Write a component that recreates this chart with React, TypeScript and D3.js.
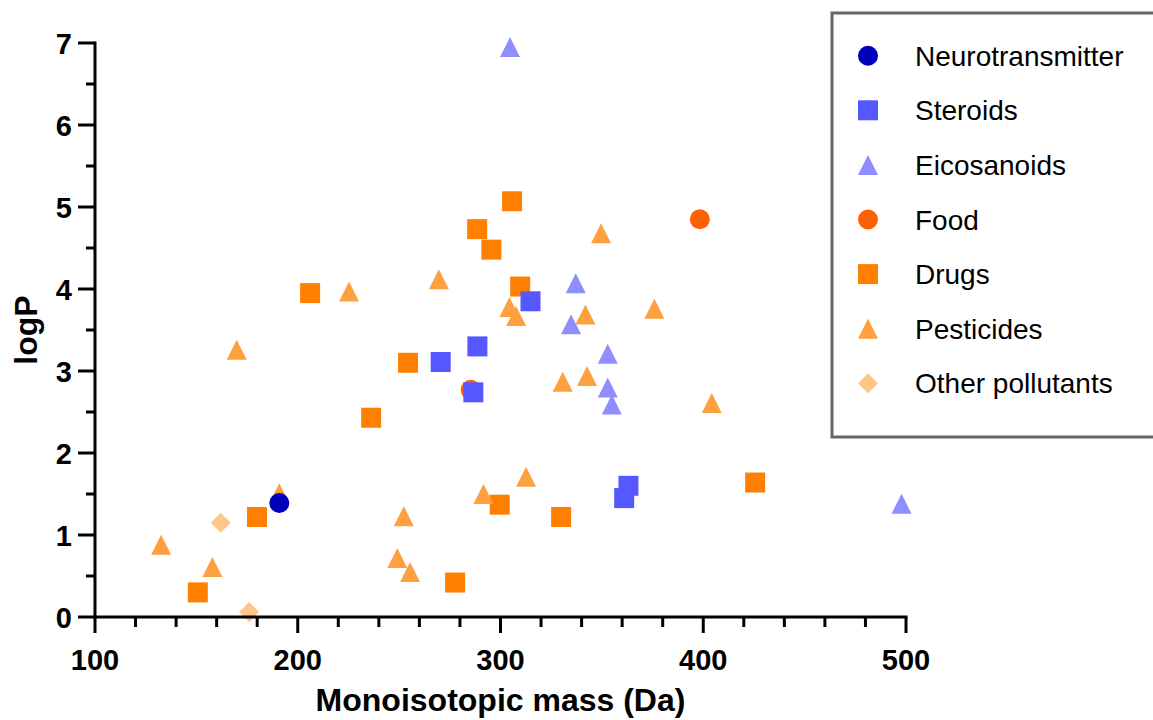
import React from 'react';
import * as d3 from 'd3';

const categories = ['Neurotransmitter', 'Steroids', 'Eicosanoids', 'Food', 'Drugs', 'Pesticides', 'Other pollutants'];
const shapes = ['circle', 'square', 'triangle', 'circle', 'square', 'triangle', 'diamond'];
const colors = ['#0000BB', '#5757FF', '#8E8EFF', '#FF6000', '#FF8000', '#FFA040', '#FFC68A'];

const neuroMass = [190.9];
const neuroLogP = [1.39];
const steroidMass = [270.5, 286.6, 288.6, 314.8, 361.0, 363.1];
const steroidLogP = [3.11, 2.74, 3.30, 3.85, 1.45, 1.60];
const eicosMass = [304.7, 334.8, 337.1, 352.9, 352.9, 354.9, 497.8];
const eicosLogP = [6.95, 3.57, 4.07, 3.21, 2.80, 2.59, 1.38];
const foodMass = [285.3, 398.3];
const foodLogP = [2.77, 4.85];
const drugMass = [150.7, 179.9, 206.1, 236.2, 254.4, 277.6, 288.5, 295.5, 299.6, 305.7, 309.7, 329.9, 425.6];
const drugLogP = [0.30, 1.22, 3.95, 2.43, 3.10, 0.42, 4.73, 4.48, 1.37, 5.07, 4.03, 1.22, 1.64];
const pestMass = [132.6, 157.9, 169.9, 190.9, 225.3, 249.1, 252.3, 255.4, 269.6, 291.6, 304.4, 307.7, 312.6, 330.7, 342.7, 341.9, 349.6, 375.9, 404.2];
const pestLogP = [0.88, 0.61, 3.26, 1.51, 3.97, 0.72, 1.23, 0.55, 4.12, 1.50, 3.78, 3.67, 1.71, 2.87, 2.94, 3.69, 4.68, 3.76, 2.61];
const otherMass = [162.0, 176.0];
const otherLogP = [1.15, 0.06];

const seriesMass = [neuroMass, steroidMass, eicosMass, foodMass, drugMass, pestMass, otherMass];
const seriesLogP = [neuroLogP, steroidLogP, eicosLogP, foodLogP, drugLogP, pestLogP, otherLogP];
const drawOrder = [6, 4, 3, 5, 2, 1, 0];

const xTicks = [100, 200, 300, 400, 500];
const yTicks = [0, 1, 2, 3, 4, 5, 6, 7];
const xMinor = d3.range(100, 501, 20);
const yMinor = d3.range(0, 7.01, 0.5);

const W = 1153;
const H = 720;
const x = d3.scaleLinear().domain([100, 500]).range([95, 906]);
const y = d3.scaleLinear().domain([0, 7]).range([617, 43]);

function markerPath(shape: string, cx: number, cy: number, s = 10): string {
  const p = d3.path();
  if (shape === 'circle') {
    p.moveTo(cx + s, cy);
    p.arc(cx, cy, s, 0, Math.PI * 2);
  } else if (shape === 'square') {
    p.rect(cx - s, cy - s, 2 * s, 2 * s);
  } else if (shape === 'triangle') {
    p.moveTo(cx, cy - s);
    p.lineTo(cx + s, cy + s);
    p.lineTo(cx - s, cy + s);
    p.closePath();
  } else {
    p.moveTo(cx, cy - s);
    p.lineTo(cx + s, cy);
    p.lineTo(cx, cy + s);
    p.lineTo(cx - s, cy);
    p.closePath();
  }
  return p.toString();
}

const FONT = 'Liberation Sans, Arial, sans-serif';

export default function App() {
  const x0 = x(100);
  const y0 = y(0);
  return (
    <svg width={W} height={H} style={{ position: 'absolute', left: 0, top: 0, background: '#fff' }} fontFamily={FONT}>
      {drawOrder.map((si) => (
        <g key={categories[si]}>
          {seriesMass[si].map((m, i) => (
            <path
              key={i}
              d={markerPath(shapes[si], x(m), y(seriesLogP[si][i]))}
              fill={colors[si]}
            />
          ))}
        </g>
      ))}
      <g stroke="#000" strokeWidth={3} fill="none">
        <line x1={x0} y1={y(7) - 1.5} x2={x0} y2={y0 + 1.5} />
        <line x1={x0 - 1.5} y1={y0} x2={x(500) + 1.5} y2={y0} />
        {xMinor.map((v) => (
          <line key={'xm' + v} x1={x(v)} x2={x(v)} y1={y0} y2={y0 + (v % 100 === 0 ? 16 : 10)} />
        ))}
        {yMinor.map((v) => (
          <line key={'ym' + v} x1={x0} x2={x0 - (v % 1 === 0 ? 17 : 9)} y1={y(v)} y2={y(v)} />
        ))}
      </g>
      <g fontWeight="bold" fontSize={29} fill="#000">
        {xTicks.map((v) => (
          <text key={'xt' + v} x={x(v)} y={670} textAnchor="middle">{v}</text>
        ))}
        {yTicks.map((v) => (
          <text key={'yt' + v} x={72} y={y(v) + 10.5} textAnchor="end">{v}</text>
        ))}
      </g>
      <text x={(x(100) + x(500)) / 2} y={711} textAnchor="middle" fontWeight="bold" fontSize={32}>
        Monoisotopic mass (Da)
      </text>
      <text
        transform={`translate(37, ${(y(0) + y(7)) / 2}) rotate(-90)`}
        textAnchor="middle"
        fontWeight="bold"
        fontSize={32}
      >
        logP
      </text>
      <rect x={832} y={13} width={340} height={424} fill="#fff" stroke="#666" strokeWidth={3} />
      {categories.map((c, i) => {
        const ly = 55.7 + i * 54.6;
        return (
          <g key={'lg' + c}>
            <path d={markerPath(shapes[i], 868, ly)} fill={colors[i]} />
            <text x={915} y={ly + 10} fontSize={28} fill="#000">{c}</text>
          </g>
        );
      })}
    </svg>
  );
}
